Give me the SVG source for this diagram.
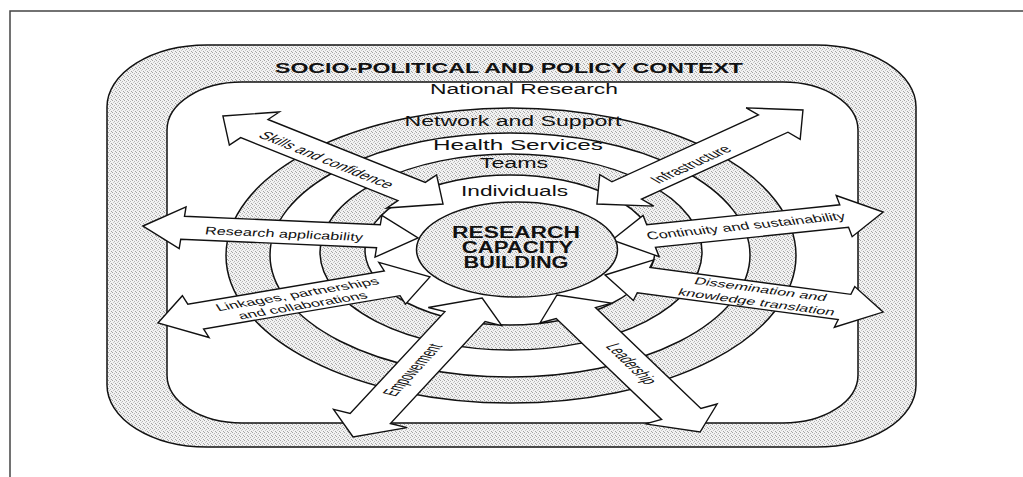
<svg xmlns="http://www.w3.org/2000/svg" width="1023" height="477" viewBox="0 0 1023 477">
<defs>
<pattern id="stip" width="4" height="4" patternUnits="userSpaceOnUse">
<rect width="4" height="4" fill="#f2f2f2"/>
<rect x="0" y="0" width="1" height="1" fill="#a4a4a4"/>
<rect x="2" y="1" width="1" height="1" fill="#b6b6b6"/>
<rect x="1" y="2" width="1" height="1" fill="#c6c6c6"/>
<rect x="3" y="3" width="1" height="1" fill="#a4a4a4"/>
</pattern>
<style>
.st{fill:url(#stip);stroke:#111;stroke-width:1.5}
.wh{fill:#fff;stroke:#111;stroke-width:1.5}
.arr{fill:#fff;stroke:#111;stroke-width:1.4;vector-effect:non-scaling-stroke;stroke-linejoin:miter}
.lbl{font-family:"Liberation Sans",Arial,sans-serif;font-size:14px;fill:#111}
.bld{font-family:"Liberation Sans",Arial,sans-serif;font-weight:bold;fill:#111}
.at{font-family:"Liberation Sans",Arial,sans-serif;font-size:11px;fill:#111}
.at2{font-family:"Liberation Sans",Arial,sans-serif;font-size:10px;fill:#111}
</style>
</defs>
<rect width="1023" height="477" fill="#fff"/>
<path d="M10 477 V11 H1023" fill="none" stroke="#444" stroke-width="1.5"/>

<g id="context">
<rect class="st" x="107" y="45" width="809" height="402" rx="100" ry="62" stroke-width="2"/>
<text class="bld" x="509" y="73" font-size="14" text-anchor="middle" textLength="468" lengthAdjust="spacingAndGlyphs">SOCIO-POLITICAL AND POLICY CONTEXT</text>
</g>
<g id="national">
<rect class="wh" x="167" y="82" width="691" height="341" rx="75" ry="48"/>
<text class="lbl" x="524" y="93.5" text-anchor="middle" textLength="188" lengthAdjust="spacingAndGlyphs">National Research</text>
</g>
<g id="ring-network">
<ellipse class="st" cx="511" cy="255.5" rx="285" ry="147.5"/>
<text class="lbl" x="513" y="126" text-anchor="middle" textLength="217" lengthAdjust="spacingAndGlyphs">Network and Support</text>
</g>
<g id="ring-health">
<ellipse class="wh" cx="510" cy="255" rx="240" ry="122"/>
<text class="lbl" x="518" y="150" text-anchor="middle" textLength="170" lengthAdjust="spacingAndGlyphs">Health Services</text>
</g>
<g id="ring-teams">
<ellipse class="st" cx="511" cy="252" rx="191" ry="98"/>
<text class="lbl" x="514" y="168" text-anchor="middle" textLength="68.5" lengthAdjust="spacingAndGlyphs">Teams</text>
</g>
<g id="ring-individuals">
<ellipse class="wh" cx="510" cy="250" rx="145" ry="75"/>
<text class="lbl" x="514.5" y="195.5" text-anchor="middle" textLength="107" lengthAdjust="spacingAndGlyphs">Individuals</text>
</g>

<g id="connectors" transform="matrix(1.94 0 0 1 -480.34 0)">
<g id="arrow-skills" transform="translate(362.5 116) rotate(37.8)">
<polygon class="arr" points="0,0 20.5,-21 20.5,-11.5 123.1,-11.5 123.1,-21 143.6,0 123.1,21 123.1,11.5 20.5,11.5 20.5,21"/>
<text class="at" x="69.2" y="2.1" text-anchor="middle" dominant-baseline="central" textLength="84.9" lengthAdjust="spacingAndGlyphs">Skills and confidence</text>
</g>
<g id="arrow-infra" transform="translate(555.3 204) rotate(-41.5)">
<polygon class="arr" points="0,0 20.5,-21 20.5,-11.5 121.3,-11.5 121.3,-21 141.8,0 121.3,21 121.3,11.5 20.5,11.5 20.5,21"/>
<text class="at" x="62.5" y="2.6" text-anchor="middle" dominant-baseline="central" textLength="51" lengthAdjust="spacingAndGlyphs">Infrastructure</text>
</g>
<g id="arrow-applic" transform="translate(321.3 226) rotate(4.84)">
<polygon class="arr" points="0,0 20.5,-21 20.5,-11.5 121.8,-11.5 121.8,-21 142.3,0 121.8,21 121.8,11.5 20.5,11.5 20.5,21"/>
<text class="at" x="73.1" y="1.9" text-anchor="middle" dominant-baseline="central" textLength="81.6" lengthAdjust="spacingAndGlyphs">Research applicability</text>
</g>
<g id="arrow-contin" transform="translate(563.1 240) rotate(-11.3)">
<polygon class="arr" points="0,0 20.5,-21 20.5,-11.5 122,-11.5 122,-21 142.5,0 122,21 122,11.5 20.5,11.5 20.5,21"/>
<text class="at" x="70.4" y="-0.2" text-anchor="middle" dominant-baseline="central" textLength="104" lengthAdjust="spacingAndGlyphs">Continuity and sustainability</text>
</g>
<g id="arrow-link" transform="translate(329 323) rotate(-18.2)">
<polygon class="arr" points="0,0 20.5,-22 20.5,-13 127.1,-13 127.1,-22 147.6,0 127.1,22 127.1,13 20.5,13 20.5,22"/>
<text class="at2" x="77.3" y="-5" text-anchor="middle" dominant-baseline="central" textLength="87.8" lengthAdjust="spacingAndGlyphs">Linkages, partnerships</text>
<text class="at2" x="76.4" y="6.5" text-anchor="middle" dominant-baseline="central" textLength="69.4" lengthAdjust="spacingAndGlyphs">and collaborations</text>
</g>
<g id="arrow-dissem" transform="translate(559.5 275) rotate(14.5)">
<polygon class="arr" points="0,0 20.5,-21 20.5,-13 127.5,-13 127.5,-21 148,0 127.5,21 127.5,13 20.5,13 20.5,21"/>
<text class="at2" x="81.2" y="-6.5" text-anchor="middle" dominant-baseline="central" textLength="70.1" lengthAdjust="spacingAndGlyphs">Dissemination and</text>
<text class="at2" x="82.4" y="6.5" text-anchor="middle" dominant-baseline="central" textLength="83.1" lengthAdjust="spacingAndGlyphs">knowledge translation</text>
</g>
<g id="arrow-empower" transform="translate(429.6 437) rotate(-64.4)">
<polygon class="arr" points="0,0 20.5,-21 20.5,-11.5 133.5,-11.5 133.5,-21 154,0 133.5,21 133.5,11.5 20.5,11.5 20.5,21"/>
<text class="at" x="73.7" y="-1.2" text-anchor="middle" dominant-baseline="central" textLength="56.5" lengthAdjust="spacingAndGlyphs">Empowerment</text>
</g>
<g id="arrow-lead" transform="translate(534.7 295) rotate(61.7)">
<polygon class="arr" points="0,0 20.5,-21 20.5,-11.5 135.1,-11.5 135.1,-21 155.6,0 135.1,21 135.1,11.5 20.5,11.5 20.5,21"/>
<text class="at" x="78.9" y="-1.1" text-anchor="middle" dominant-baseline="central" textLength="44" lengthAdjust="spacingAndGlyphs">Leadership</text>
</g>
</g>

<g id="core">
<ellipse class="st" cx="517" cy="249.5" rx="100.5" ry="47.5"/>
<text class="bld" font-size="16" x="516" y="238" text-anchor="middle" textLength="128" lengthAdjust="spacingAndGlyphs">RESEARCH</text>
<text class="bld" font-size="16" x="517.5" y="253.3" text-anchor="middle" textLength="111.6" lengthAdjust="spacingAndGlyphs">CAPACITY</text>
<text class="bld" font-size="16" x="516" y="268.4" text-anchor="middle" textLength="105" lengthAdjust="spacingAndGlyphs">BUILDING</text>
</g>
</svg>
